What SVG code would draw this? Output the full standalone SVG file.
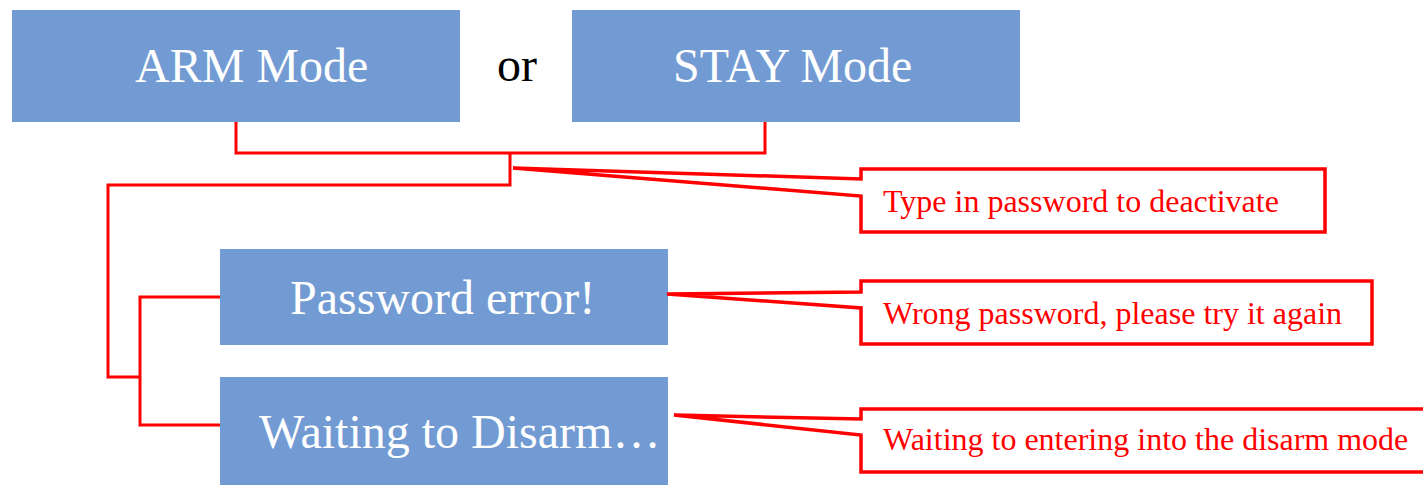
<svg xmlns="http://www.w3.org/2000/svg" width="1423" height="485" viewBox="0 0 1423 485">
<style>
.box{fill:#729BD3;}
.bt{font-family:"Liberation Serif","Times New Roman",serif;font-size:48px;fill:#ffffff;}
.ct{font-family:"Liberation Serif","Times New Roman",serif;font-size:32px;fill:#ff0000;}
.line{fill:none;stroke:#ff0000;stroke-width:3;stroke-linejoin:miter;}
.call{fill:#ffffff;stroke:#ff0000;stroke-width:3.5;stroke-linejoin:miter;}
</style>
<rect width="1423" height="485" fill="#ffffff"/>
<g id="connectors">
<polyline class="line" points="236,122 236,153 765,153 765,122"/>
<polyline class="line" points="510,153 510,185 108,185 108,377 140,377"/>
<polyline class="line" points="220,297 140,297 140,425 220,425"/>
</g>
<g id="arm">
<rect class="box" x="12" y="10" width="448" height="112"/>
<text class="bt" x="135" y="82">ARM Mode</text>
</g>
<g id="or">
<text x="497" y="81" style="font-family:'Liberation Serif','Times New Roman',serif;font-size:48px;fill:#000000;">or</text>
</g>
<g id="stay">
<rect class="box" x="572" y="10" width="448" height="112"/>
<text class="bt" x="673" y="82">STAY Mode</text>
</g>
<g id="pwerror">
<rect class="box" x="220" y="249" width="448" height="96"/>
<text class="bt" x="290" y="314">Password error!</text>
</g>
<g id="waiting">
<rect class="box" x="220" y="377" width="448" height="108"/>
<text class="bt" x="259" y="448">Waiting to Disarm…</text>
</g>
<g id="callout1">
<path class="call" d="M861,169 L1325,169 L1325,232 L861,232 L861,196 L513,168 L861,179 Z"/>
<text class="ct" x="883" y="212">Type in password to deactivate</text>
</g>
<g id="callout2">
<path class="call" d="M861,281 L1372,281 L1372,344 L861,344 L861,308 L667,294 L861,292 Z"/>
<text class="ct" x="883" y="324">Wrong password, please try it again</text>
</g>
<g id="callout3">
<path class="call" d="M861,409 L1440,409 L1440,472 L861,472 L861,435 L674,415 L861,419 Z"/>
<text class="ct" x="883" y="450">Waiting to entering into the disarm mode</text>
</g>
</svg>
